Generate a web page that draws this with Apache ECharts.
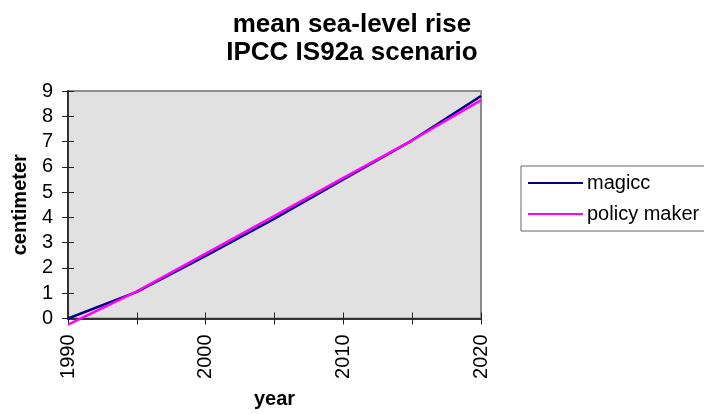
<!DOCTYPE html>
<html>
<head>
<meta charset="utf-8">
<script src="https://cdn.jsdelivr.net/npm/echarts@6/dist/echarts.min.js"></script>
<style>html,body{margin:0;padding:0;background:#fff;}#c{width:704px;height:414px;}</style>
</head>
<body>
<div id="c"></div>
<script>
var years = [1990, 1995, 2000, 2005, 2010, 2015, 2020];
var magicc = [0, 1.05, 2.48, 3.95, 5.5, 7.05, 8.8];
var policyMaker = [-0.24, 1.07, 2.57, 4.06, 5.56, 7.05, 8.64];
var seriesNames = ['magicc', 'policy maker'];
var titleText = 'mean sea-level rise\nIPCC IS92a scenario';

function pairs(vals){ return years.map(function(y,i){ return [y, vals[i]]; }); }

var F = 'Liberation Sans, Arial, sans-serif';
var chart = echarts.init(document.getElementById('c'), null, {renderer:'canvas'});
var xBase = {
  type:'value', min:1990, max:2020, interval:5, position:'bottom',
  splitLine:{show:false}
};
var yBase = {
  type:'value', min:0, max:9, interval:1, position:'left',
  splitLine:{show:false}
};
chart.setOption({
  backgroundColor:'#ffffff',
  animation:false,
  title:{
    text:titleText, left:'center', top:11, padding:0,
    textStyle:{fontFamily:F, fontSize:26, fontWeight:'bold', color:'#000', lineHeight:28}
  },
  grid:{left:68, right:223, top:91, bottom:95.5, show:true, containLabel:false,
    outerBoundsMode:'none',
    backgroundColor:'#e1e1e1', borderColor:'#8c8c8c', borderWidth:2},
  legend:{
    orient:'vertical', left:521, top:166, data:seriesNames,
    itemWidth:55, itemHeight:14, itemGap:11,
    padding:[7,20,7,7], borderColor:'#666', borderWidth:1,
    textStyle:{fontFamily:F, fontSize:20, color:'#000', padding:[0,0,0,-1]},
    icon:'path://M0,6 L55,6 L55,8 L0,8 Z'
  },
  xAxis:[
    Object.assign({}, xBase, {
      name:'year', nameLocation:'middle', nameGap:71,
      nameTextStyle:{fontFamily:F, fontSize:20, fontWeight:'bold', color:'#000'},
      axisLine:{show:true, onZero:false, lineStyle:{color:'#333', width:2}},
      axisTick:{show:true, inside:false, length:6, lineStyle:{color:'#222', width:1}},
      axisLabel:{rotate:90, margin:16, fontFamily:F, fontSize:20, color:'#000',
        formatter:function(v){ return v % 10 === 0 ? String(v) : ''; }}
    }),
    Object.assign({}, xBase, {
      axisLine:{show:false, onZero:false},
      axisTick:{show:true, inside:true, length:6, lineStyle:{color:'#222', width:1}},
      axisLabel:{show:false}
    })
  ],
  yAxis:[
    Object.assign({}, yBase, {
      name:'centimeter', nameLocation:'middle', nameGap:38,
      nameTextStyle:{fontFamily:F, fontSize:20, fontWeight:'bold', color:'#000'},
      axisLine:{show:true, onZero:false, lineStyle:{color:'#333', width:2}},
      axisTick:{show:true, inside:false, length:6, lineStyle:{color:'#222', width:1}},
      axisLabel:{margin:15, fontFamily:F, fontSize:20, color:'#000'}
    }),
    Object.assign({}, yBase, {
      axisLine:{show:false, onZero:false},
      axisTick:{show:true, inside:true, length:6, lineStyle:{color:'#222', width:1}},
      axisLabel:{show:false}
    })
  ],
  series:[
    {name:seriesNames[0], type:'line', data:pairs(magicc), symbol:'none', clip:false,
      itemStyle:{color:'#000080'}, lineStyle:{color:'#000080', width:2.5}},
    {name:seriesNames[1], type:'line', data:pairs(policyMaker), symbol:'none', clip:false,
      itemStyle:{color:'#ff00ff'}, lineStyle:{color:'#ff00ff', width:2.5}}
  ]
});
</script>
</body>
</html>
